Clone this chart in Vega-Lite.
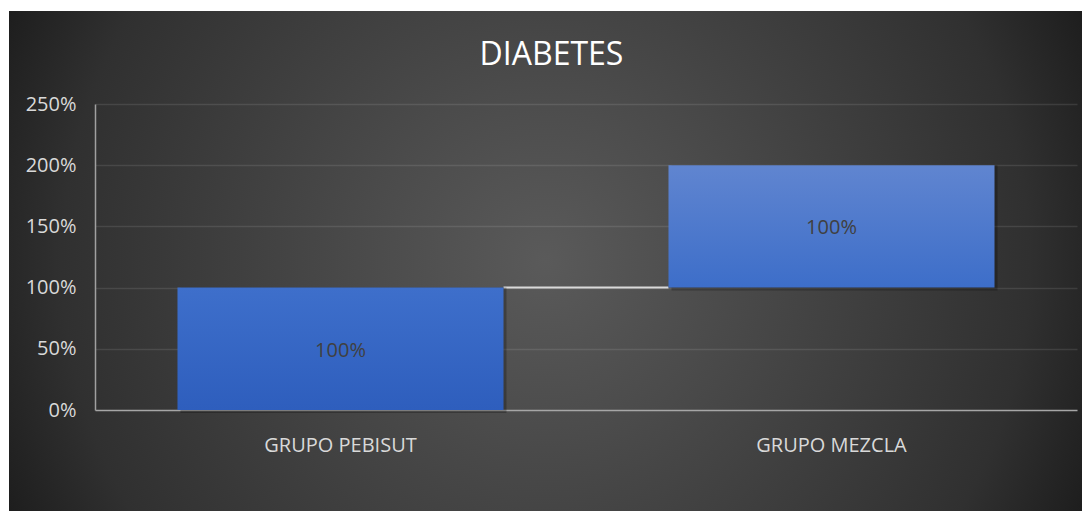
{
  "$schema": "https://vega.github.io/schema/vega-lite/v6.json",
  "width": 1073,
  "height": 500,
  "autosize": {"type": "none"},
  "padding": {"left": 9, "top": 11, "right": 0, "bottom": 0},
  "background": "#ffffff",
  "config": {
    "view": {
      "stroke": null,
      "fill": {
        "gradient": "radial",
        "x1": 0.5, "y1": 0.5, "r1": 0,
        "x2": 0.5, "y2": 0.5, "r2": 0.55,
        "stops": [
          {"offset": 0, "color": "#5a5a5a"},
          {"offset": 0.3, "color": "#4b4b4b"},
          {"offset": 0.82, "color": "#303030"},
          {"offset": 1, "color": "#1e1e1e"}
        ]
      }
    },
    "font": "Open Sans",
    "axisX": {
      "offset": -101,
      "labelFont": "Open Sans",
      "labelFontSize": 20,
      "labelColor": "#d9d9d9",
      "labelPadding": 25,
      "labelAngle": 0,
      "ticks": false,
      "domain": true,
      "domainColor": "#a6a6a6",
      "domainWidth": 1.5,
      "grid": false
    },
    "axisY": {
      "labelFont": "Open Sans",
      "labelFontSize": 20,
      "labelColor": "#d9d9d9",
      "labelPadding": 19,
      "ticks": false,
      "domainColor": "#a0a0a0",
      "domainWidth": 1.5,
      "gridColor": "#ffffff",
      "gridOpacity": 0.1,
      "gridWidth": 1.5
    }
  },
  "title": {
    "text": "DIABETES",
    "font": "Open Sans",
    "fontSize": 32,
    "fontWeight": "normal",
    "color": "#ffffff",
    "anchor": "middle",
    "frame": "group",
    "baseline": "alphabetic",
    "offset": -86,
    "dx": 6
  },
  "data": {
    "values": [
      {"group": "GRUPO PEBISUT", "start": 0, "end": 1, "label": "100%"},
      {"group": "GRUPO MEZCLA", "start": 1, "end": 2, "label": "100%"}
    ]
  },
  "resolve": {"axis": {"y": "independent"}},
  "encoding": {
    "x": {
      "field": "group",
      "type": "nominal",
      "title": null,
      "scale": {
        "domain": ["GRUPO PEBISUT", "GRUPO MEZCLA"],
        "range": [86, 1068],
        "paddingInner": 0.336,
        "paddingOuter": 0.168
      }
    }
  },
  "layer": [
    {
      "data": {"values": [{"level": 1}]},
      "mark": {"type": "rule", "color": "#d9d9d9", "strokeWidth": 2},
      "encoding": {
        "x": {"datum": "GRUPO PEBISUT", "type": "nominal", "title": null, "bandPosition": 1},
        "x2": {"datum": "GRUPO MEZCLA", "bandPosition": 0},
        "y": {
          "field": "level",
          "type": "quantitative",
          "title": null,
          "scale": {"domain": [0, 2.5], "range": [399, 93], "nice": false, "zero": false},
          "axis": {
            "orient": "left",
            "offset": 0,
            "values": [0.5, 1, 1.5, 2, 2.5],
            "grid": true,
            "labels": false,
            "domain": false,
            "ticks": false
          }
        }
      }
    },
    {
      "mark": {"type": "bar", "color": "#000000", "opacity": 0.25, "xOffset": 3, "yOffset": 3},
      "encoding": {
        "y": {
          "field": "start",
          "type": "quantitative",
          "title": null,
          "scale": {"domain": [0, 2.5], "range": [399, 93], "nice": false, "zero": false},
          "axis": {
            "orient": "left",
            "offset": -86,
            "values": [0, 0.5, 1, 1.5, 2, 2.5],
            "format": ".0%",
            "grid": false,
            "labels": true,
            "domain": true,
            "ticks": false
          }
        },
        "y2": {"field": "end"}
      }
    },
    {
      "transform": [{"filter": "datum.group == 'GRUPO PEBISUT'"}],
      "mark": {
        "type": "bar",
        "color": {
          "gradient": "linear",
          "x1": 0, "y1": 0, "x2": 0, "y2": 1,
          "stops": [
            {"offset": 0, "color": "#3e6fcb"},
            {"offset": 1, "color": "#2e5ebd"}
          ]
        }
      },
      "encoding": {
        "y": {"field": "start", "type": "quantitative", "title": null, "axis": null},
        "y2": {"field": "end"}
      }
    },
    {
      "transform": [{"filter": "datum.group == 'GRUPO MEZCLA'"}],
      "mark": {
        "type": "bar",
        "color": {
          "gradient": "linear",
          "x1": 0, "y1": 0, "x2": 0, "y2": 1,
          "stops": [
            {"offset": 0, "color": "#6085d0"},
            {"offset": 1, "color": "#3d6ec9"}
          ]
        }
      },
      "encoding": {
        "y": {"field": "start", "type": "quantitative", "title": null, "axis": null},
        "y2": {"field": "end"}
      }
    },
    {
      "transform": [{"fold": ["start", "end"], "as": ["edge", "v"]}],
      "mark": {"type": "text", "font": "Open Sans", "fontSize": 20, "color": "#404040", "baseline": "middle", "align": "center", "dy": 2},
      "encoding": {
        "y": {"field": "v", "aggregate": "mean", "type": "quantitative", "title": null, "axis": null},
        "text": {"field": "label"}
      }
    }
  ]
}
